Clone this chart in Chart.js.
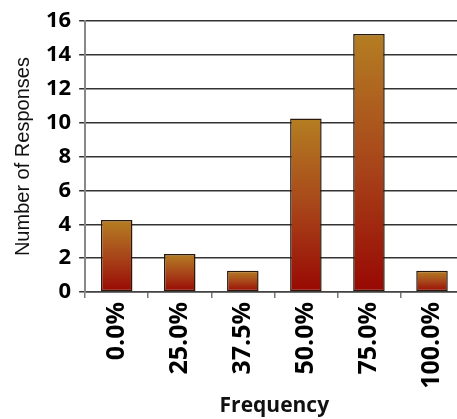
<!DOCTYPE html>
<html>
<head>
<meta charset="utf-8">
<script src="https://cdn.jsdelivr.net/npm/chart.js@4/dist/chart.umd.min.js"></script>
<style>
  html, body { margin: 0; padding: 0; background: #fff; overflow: hidden; }
  #wrap { position: relative; width: 466px; height: 419px; }
</style>
</head>
<body>
<div id="wrap"><canvas id="c"></canvas></div>
<script>
const categories = ['0.0%', '25.0%', '37.5%', '50.0%', '75.0%', '100.0%'];
const responses = [4.25, 2.25, 1.25, 10.25, 15.25, 1.25];
const yMin = 0;
const yMax = 16;
const yStep = 2;
const xTitle = 'Frequency';
const yTitle = 'Number of Responses';

function barGradient(context) {
  const chart = context.chart;
  const y = chart.scales && chart.scales.y;
  if (!chart.chartArea || !y || context.type !== 'data') return '#a8461a';
  const top = y.getPixelForValue(context.raw);
  const base = y.getPixelForValue(0);
  const g = chart.ctx.createLinearGradient(0, top, 0, base);
  g.addColorStop(0, '#b47e22');
  g.addColorStop(0.5, '#a8461a');
  g.addColorStop(1, '#980803');
  return g;
}

const fam = "'Open Sans', 'Liberation Sans', sans-serif";

new Chart(document.getElementById('c'), {
  type: 'bar',
  data: {
    labels: categories,
    datasets: [{
      data: responses,
      backgroundColor: barGradient,
      borderColor: '#2a180a',
      borderWidth: 1.5,
      borderSkipped: false,
      barPercentage: 0.5,
      categoryPercentage: 1.0
    }]
  },
  options: {
    responsive: true,
    maintainAspectRatio: false,
    animation: false,
    layout: { padding: { top: 8, left: 11, right: 0, bottom: 0 } },
    plugins: { legend: { display: false }, tooltip: { enabled: false } },
    scales: {
      x: {
        grid: { display: true, drawOnChartArea: false, drawTicks: true, tickLength: 6, color: '#777', lineWidth: 1.5, offset: true },
        border: { display: true, color: '#444', width: 1.5 },
        ticks: { color: '#000', font: { family: fam, size: 25, weight: 'bold' }, maxRotation: 90, minRotation: 90, padding: 4 },
        title: { display: true, text: xTitle, color: '#111', font: { family: fam, size: 21, weight: 'bold' }, padding: { top: 1, bottom: 0 } }
      },
      y: {
        min: yMin, max: yMax,
        ticks: { stepSize: yStep, color: '#000', font: { family: fam, size: 22, weight: 'bold' }, padding: 8 },
        grid: { color: '#333', lineWidth: 1.5, tickLength: 6 },
        border: { display: true, color: '#888', width: 2 },
        title: { display: true, text: yTitle, color: '#111', font: { family: "'Liberation Sans', Arial, sans-serif", size: 20 }, padding: { top: 0, bottom: 3 } }
      }
    }
  }
});
</script>
</body>
</html>
